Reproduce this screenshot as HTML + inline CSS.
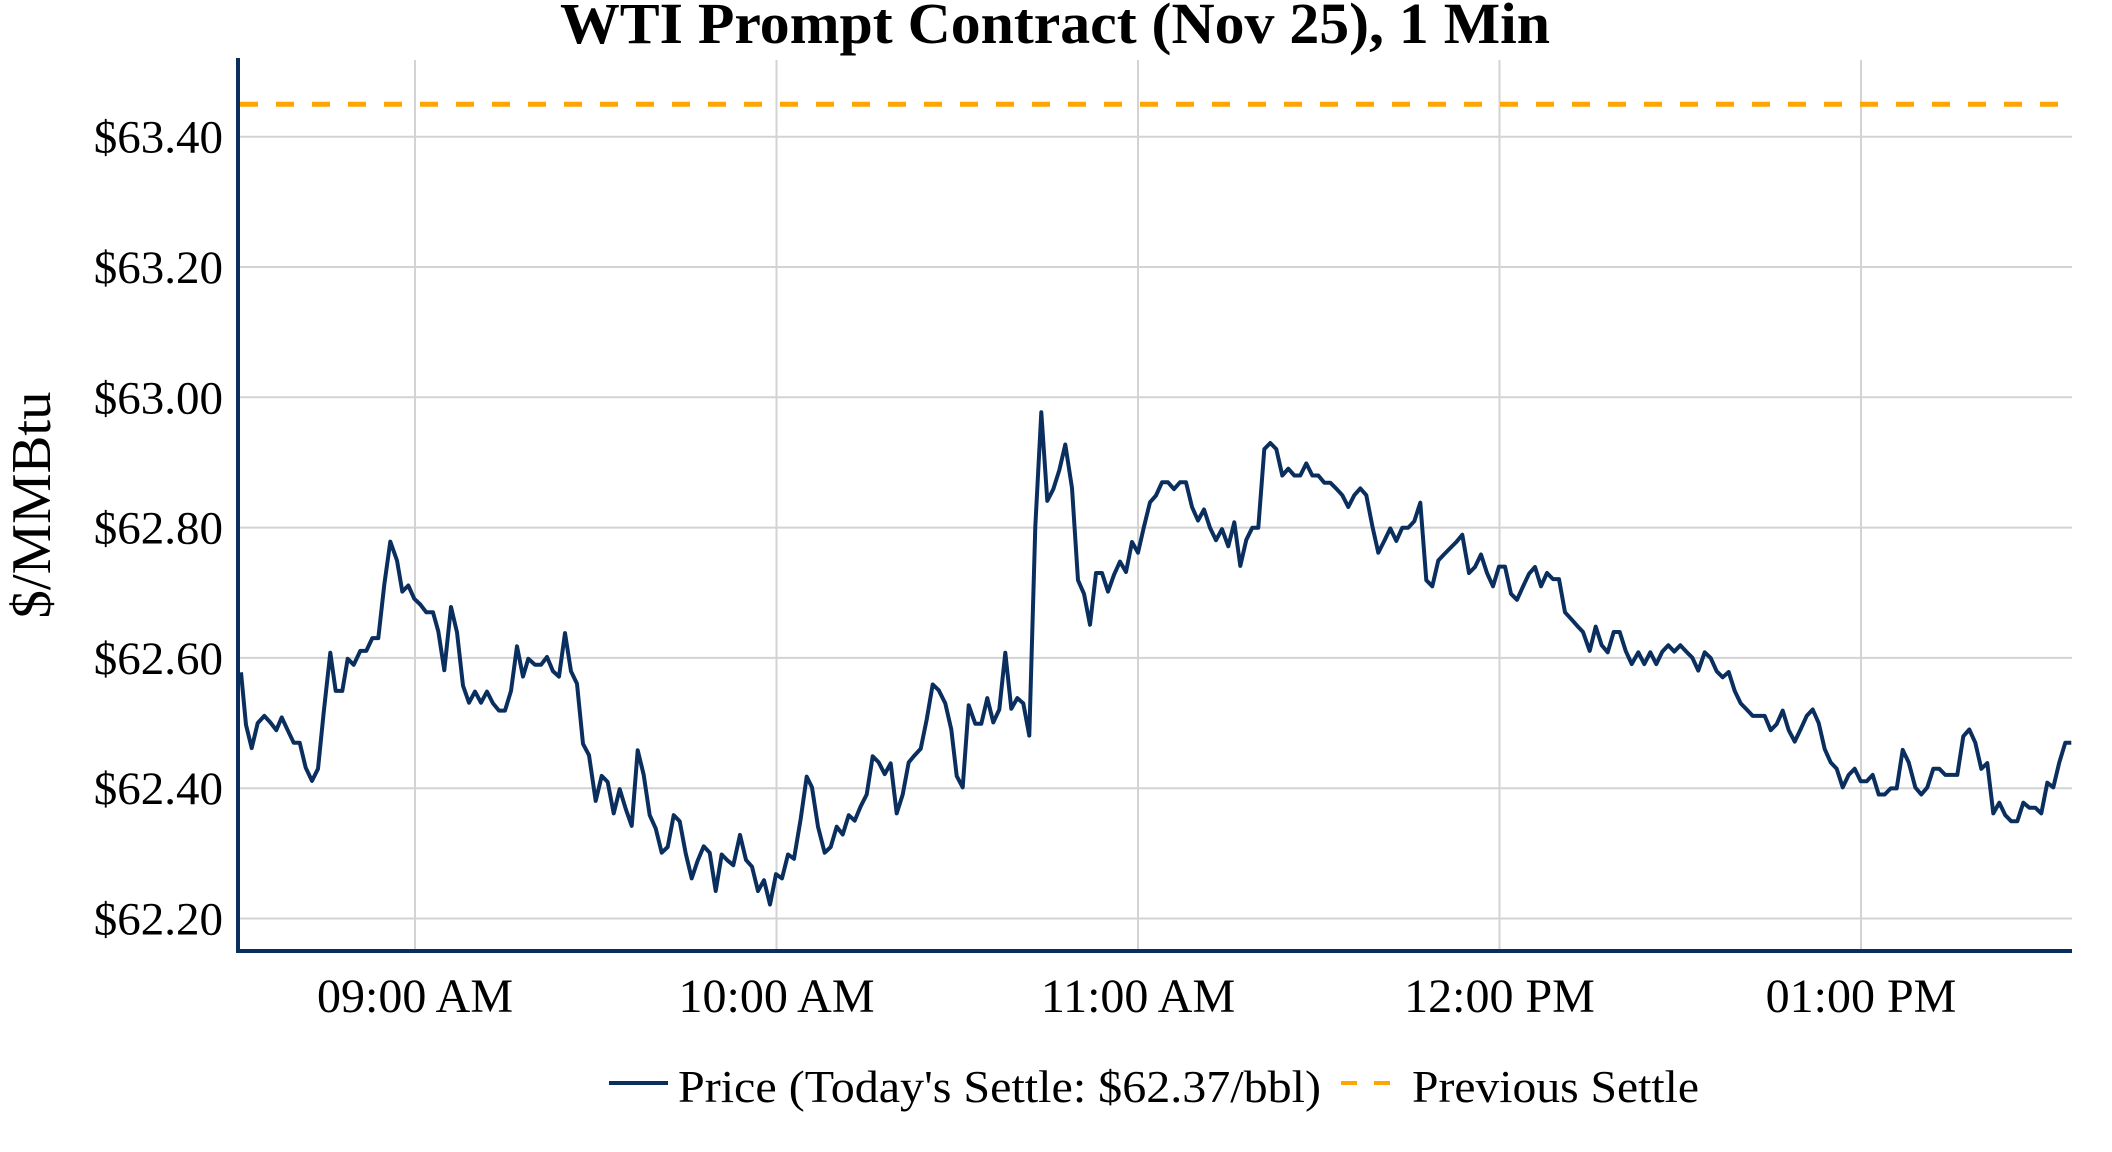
<!DOCTYPE html>
<html><head><meta charset="utf-8"><style>
html,body{margin:0;padding:0;background:#fff;}
svg{display:block;}
text{font-family:"Liberation Serif","Times New Roman",serif;fill:#000;}
</style></head><body>
<svg id="c" width="2112" height="1152" viewBox="0 0 2112 1152" xmlns="http://www.w3.org/2000/svg">
<rect width="2112" height="1152" fill="#fff"/>
<g stroke="#d3d3d3" stroke-width="2">
<line x1="415" y1="60" x2="415" y2="951"/>
<line x1="776.5" y1="60" x2="776.5" y2="951"/>
<line x1="1138" y1="60" x2="1138" y2="951"/>
<line x1="1499.5" y1="60" x2="1499.5" y2="951"/>
<line x1="1861" y1="60" x2="1861" y2="951"/>
<line x1="238" y1="136.7" x2="2072" y2="136.7"/>
<line x1="238" y1="267" x2="2072" y2="267"/>
<line x1="238" y1="397.3" x2="2072" y2="397.3"/>
<line x1="238" y1="527.6" x2="2072" y2="527.6"/>
<line x1="238" y1="657.9" x2="2072" y2="657.9"/>
<line x1="238" y1="788.2" x2="2072" y2="788.2"/>
<line x1="238" y1="918.5" x2="2072" y2="918.5"/>
</g>
<line x1="240" y1="104.3" x2="2072" y2="104.3" stroke="#FFA500" stroke-width="5" stroke-dasharray="18 18"/>
<path id="p" d="" fill="none" stroke="#0a2f5f" stroke-width="4" stroke-linejoin="round"/>
<line x1="238" y1="58" x2="238" y2="953" stroke="#0a2f5f" stroke-width="4"/>
<line x1="236" y1="951" x2="2072" y2="951" stroke="#0a2f5f" stroke-width="4"/>
<g font-size="47" text-anchor="end">
<text x="223" y="152.7">$63.40</text>
<text x="223" y="283">$63.20</text>
<text x="223" y="413.3">$63.00</text>
<text x="223" y="543.6">$62.80</text>
<text x="223" y="673.9">$62.60</text>
<text x="223" y="804.2">$62.40</text>
<text x="223" y="934.5">$62.20</text>
</g>
<g font-size="48" text-anchor="middle">
<text x="415" y="1012">09:00 AM</text>
<text x="776.5" y="1012">10:00 AM</text>
<text x="1138" y="1012">11:00 AM</text>
<text x="1499.5" y="1012">12:00 PM</text>
<text x="1861" y="1012">01:00 PM</text>
</g>
<text transform="translate(50,505) rotate(-90)" font-size="56" text-anchor="middle" textLength="227" lengthAdjust="spacingAndGlyphs">$/MMBtu</text>
<text x="560" y="43" font-size="58" font-weight="bold" textLength="990" lengthAdjust="spacingAndGlyphs">WTI Prompt Contract (Nov 25), 1 Min</text>
<line x1="609" y1="1083" x2="668" y2="1083" stroke="#0a2f5f" stroke-width="4"/>
<text x="678" y="1102" font-size="46" textLength="643" lengthAdjust="spacingAndGlyphs">Price (Today's Settle: $62.37/bbl)</text>
<line x1="1341" y1="1083" x2="1393" y2="1083" stroke="#FFA500" stroke-width="4" stroke-dasharray="16 17"/>
<text x="1412" y="1102" font-size="46" textLength="287" lengthAdjust="spacingAndGlyphs">Previous Settle</text>
</svg>
<script>
var Z=[
[235,[[18,818],[33,965],[50,1030],[68,960],[88,940],[106,958],[124,980],[140,944],[158,980],[176,1015],[194,1015],[212,1085],[231,1122],[249,1088],[266,930],[286,763],[302,870],[322,870],[338,780],[356,797],[376,758],[394,758],[412,722],[430,722],[448,572],[466,452],[486,505],[502,592],[520,575],[538,612],[556,628],[574,650],[594,650],[610,703],[628,812],[648,635],[666,706],[684,855],[702,903],[720,872],[738,903],[756,872],[774,905],[792,925],[810,925],[828,870],[846,745],[864,830],[880,780],[900,797],[918,797],[936,775],[954,815],[972,830],[990,708],[1008,815],[1026,850],[1044,1018],[1062,1050],[1082,1178],[1100,1108],[1118,1125],[1136,1213],[1154,1145],[1172,1200],[1190,1248],[1208,1036],[1226,1105],[1244,1218],[1262,1255],[1280,1323],[1298,1307],[1316,1218],[1334,1235],[1352,1325],[1370,1395],[1388,1345],[1406,1305],[1424,1323],[1442,1430],[1460,1328],[1478,1345]]],
[730,[[10,1358],[30,1273],[48,1343],[66,1362],[84,1430],[102,1400],[120,1468],[138,1383],[156,1395],[174,1328],[192,1340],[212,1228],[230,1110],[246,1140],[264,1250],[284,1323],[302,1307],[320,1250],[338,1272],[356,1218],[374,1233],[392,1193],[410,1160],[428,1053],[446,1070],[464,1103],[482,1073],[500,1213],[518,1160],[536,1070],[554,1050],[572,1032],[590,950],[608,852],[626,868],[646,905],[664,978],[680,1108],[698,1140],[716,910],[736,962],[754,962],[772,890],[790,958],[808,922],[826,763],[844,920],[862,890],[880,905],[898,995],[916,410],[934,90],[952,338],[970,305],[988,252],[1006,180],[1026,302],[1044,560],[1062,598],[1080,685],[1098,540],[1116,540],[1134,592],[1152,545],[1170,508],[1188,537],[1206,453],[1224,483],[1242,410],[1260,342],[1278,323],[1296,286],[1314,286],[1332,305],[1350,286],[1368,286],[1386,355],[1404,393],[1422,362],[1440,413],[1458,448],[1476,417]]],
[1225,[[10,465],[28,398],[46,520],[64,447],[82,413],[100,413],[118,193],[136,176],[154,193],[172,267],[190,248],[208,267],[226,267],[244,233],[262,267],[280,267],[298,287],[316,287],[334,304],[352,322],[370,355],[388,322],[406,303],[424,322],[442,408],[460,483],[478,450],[496,415],[514,450],[532,413],[550,413],[568,395],[586,343],[604,560],[622,577],[640,505],[658,487],[676,470],[694,453],[712,433],[732,540],[750,523],[768,488],[786,540],[804,577],[822,522],[840,522],[858,598],[876,615],[894,578],[912,542],[930,523],[948,577],[966,540],[984,557],[1002,557],[1020,650],[1038,668],[1056,687],[1074,705],[1094,758],[1112,690],[1130,742],[1148,762],[1166,705],[1184,705],[1202,758],[1220,795],[1240,762],[1258,795],[1276,762],[1294,795],[1312,760],[1330,742],[1348,760],[1366,742],[1384,760],[1402,777],[1420,813]]],
[1700,[[14,762],[32,778],[50,815],[68,832],[86,817],[104,870],[122,905],[140,922],[158,940],[176,940],[194,940],[212,980],[230,963],[248,925],[266,980],[284,1012],[302,977],[320,940],[338,922],[356,960],[374,1033],[392,1070],[410,1088],[428,1140],[446,1105],[464,1088],[482,1123],[500,1123],[518,1105],[536,1160],[554,1160],[572,1143],[590,1143],[608,1035],[626,1070],[646,1140],[664,1160],[682,1140],[700,1088],[718,1088],[736,1105],[754,1105],[772,1105],[790,997],[808,978],[826,1015],[844,1088],[862,1072],[880,1213],[898,1183],[916,1218],[934,1235],[952,1235],[970,1183],[988,1197],[1006,1197],[1024,1213],[1042,1127],[1060,1140],[1078,1070],[1096,1015],[1114,1015]]]
];
var d="";
Z.forEach(function(z){z[1].forEach(function(p){
 var x=z[0]+p[0]/3, y=397.3+(p[1]-48)*0.3572;
 d+=(d?"L":"M")+x.toFixed(1)+","+y.toFixed(1);
});});
document.getElementById("p").setAttribute("d",d);
</script>
</body></html>
